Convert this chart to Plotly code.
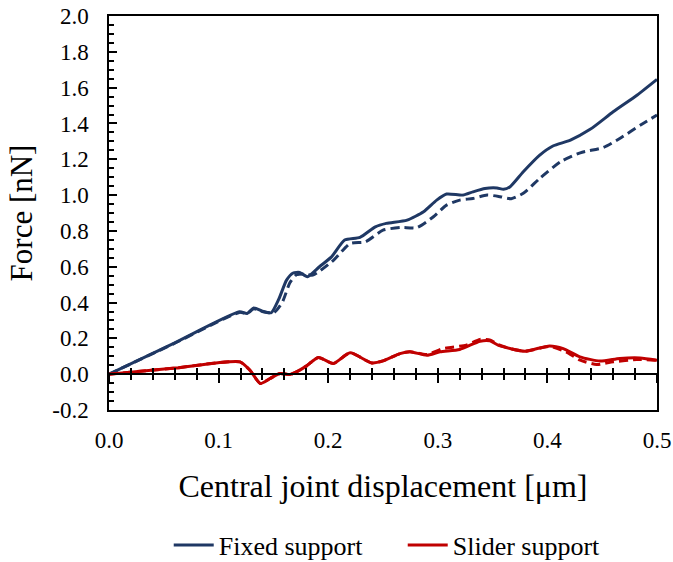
import plotly.graph_objects as go

# Fixed support: solid and dashed curves
fixed_x = [0, 0.060, 0.119, 0.126, 0.132, 0.140, 0.148, 0.155, 0.162, 0.168, 0.174,
           0.181, 0.192, 0.203, 0.215, 0.229, 0.243, 0.253, 0.272, 0.287, 0.299,
           0.308, 0.323, 0.332, 0.343, 0.354, 0.360, 0.366, 0.378, 0.393, 0.405,
           0.421, 0.439, 0.460, 0.482, 0.500]
fixed_y = [0, 0.175, 0.348, 0.339, 0.370, 0.352, 0.343, 0.420, 0.525, 0.565, 0.568,
           0.544, 0.600, 0.655, 0.749, 0.764, 0.823, 0.842, 0.860, 0.907, 0.972,
           1.006, 1.000, 1.018, 1.037, 1.040, 1.032, 1.047, 1.130, 1.223, 1.274,
           1.307, 1.367, 1.465, 1.559, 1.646]

fixed_dash_x = [0, 0.060, 0.119, 0.126, 0.132, 0.140, 0.150, 0.158, 0.165, 0.171,
                0.177, 0.186, 0.205, 0.220, 0.234, 0.250, 0.266, 0.281, 0.296, 0.308,
                0.320, 0.332, 0.345, 0.357, 0.367, 0.378, 0.393, 0.412, 0.430, 0.451,
                0.466, 0.485, 0.500]
fixed_dash_y = [0, 0.173, 0.345, 0.338, 0.365, 0.350, 0.342, 0.400, 0.510, 0.555,
                0.560, 0.553, 0.637, 0.730, 0.739, 0.804, 0.819, 0.819, 0.879, 0.944,
                0.972, 0.981, 1.000, 0.991, 0.980, 1.010, 1.093, 1.186, 1.236, 1.266,
                1.316, 1.391, 1.447]

# Slider support: solid and dashed curves
slider_x = [0, 0.060, 0.1195, 0.1286, 0.138, 0.147, 0.156, 0.165, 0.171, 0.180,
            0.191, 0.2047, 0.220, 0.2397, 0.250, 0.2655, 0.2746, 0.290, 0.302, 0.320,
            0.3385, 0.3476, 0.355, 0.366, 0.3796, 0.402, 0.4145, 0.4297, 0.448, 0.466,
            0.4845, 0.500]
slider_y = [0, 0.034, 0.069, 0.022, -0.052, -0.024, 0.004, -0.002, 0.013, 0.045,
            0.093, 0.060, 0.119, 0.063, 0.074, 0.115, 0.125, 0.106, 0.125, 0.138,
            0.184, 0.186, 0.162, 0.143, 0.128, 0.158, 0.143, 0.097, 0.073, 0.088,
            0.091, 0.078]

slider_dash_x = [0, 0.060, 0.1195, 0.1286, 0.138, 0.147, 0.156, 0.165, 0.171, 0.180,
                 0.191, 0.2047, 0.220, 0.2397, 0.250, 0.2655, 0.2746, 0.290, 0.305,
                 0.326, 0.3385, 0.348, 0.355, 0.366, 0.380, 0.402, 0.417, 0.430, 0.445,
                 0.460, 0.4815, 0.500]
slider_dash_y = [0, 0.034, 0.069, 0.022, -0.052, -0.024, 0.004, -0.002, 0.013, 0.045,
                 0.093, 0.060, 0.119, 0.063, 0.074, 0.115, 0.125, 0.110, 0.143,
                 0.162, 0.194, 0.190, 0.165, 0.143, 0.128, 0.155, 0.125, 0.078, 0.054,
                 0.069, 0.082, 0.078]

y_ticks = [-0.2, 0.0, 0.2, 0.4, 0.6, 0.8, 1.0, 1.2, 1.4, 1.6, 1.8, 2.0]
y_tick_text = ["-0.2", "0.0", "0.2", "0.4", "0.6", "0.8", "1.0", "1.2", "1.4", "1.6",
               "1.8", "2.0"]
x_ticks = [0.0, 0.1, 0.2, 0.3, 0.4, 0.5]
x_tick_text = ["0.0", "0.1", "0.2", "0.3", "0.4", "0.5"]

BLUE = "#1F3864"
RED = "#C00000"
FONT = "Liberation Serif"
LINE = dict(shape="spline", smoothing=0.6, width=3)
DASH = "9px,5px"

fig = go.Figure()
fig.add_trace(go.Scatter(x=fixed_dash_x, y=fixed_dash_y, mode="lines", showlegend=False,
                         line=dict(color=BLUE, dash=DASH, **LINE)))
fig.add_trace(go.Scatter(x=fixed_x, y=fixed_y, mode="lines", name="Fixed support",
                         line=dict(color=BLUE, **LINE)))
fig.add_trace(go.Scatter(x=slider_dash_x, y=slider_dash_y, mode="lines", showlegend=False,
                         line=dict(color=RED, dash=DASH, **LINE)))
fig.add_trace(go.Scatter(x=slider_x, y=slider_y, mode="lines", name="Slider support",
                         line=dict(color=RED, **LINE)))

# zero-line axes carrying the x tick marks (upper and lower halves)
zero_pos = 0.2 / 2.2
fig.add_trace(go.Scatter(x=[None], y=[None], xaxis="x2", showlegend=False, hoverinfo="skip"))
fig.add_trace(go.Scatter(x=[None], y=[None], xaxis="x3", showlegend=False, hoverinfo="skip"))

fig.update_layout(
    width=673, height=562,
    margin=dict(l=109, r=16, t=16, b=152),
    paper_bgcolor="white", plot_bgcolor="white",
    font=dict(family=FONT, color="black", size=23),
    showlegend=True,
    legend=dict(orientation="h", x=0.536, xanchor="center", xref="paper",
                y=(562 - 545) / 562, yanchor="middle", yref="container",
                font=dict(family=FONT, size=26, color="black"), itemwidth=40,
                entrywidth=179, bgcolor="rgba(0,0,0,0)"),
    xaxis=dict(range=[0, 0.5], tickvals=x_ticks, ticktext=x_tick_text, ticks="",
               showgrid=False, zeroline=False, showline=True, linecolor="black",
               linewidth=1.5, mirror=True, ticklabelstandoff=9, automargin=False,
               tickfont=dict(size=23),
               title=dict(text="Central joint displacement [μm]", font=dict(size=32), standoff=22)),
    xaxis2=dict(range=[0, 0.5], overlaying="x", anchor="free", position=zero_pos,
                showline=True, linecolor="black", linewidth=1.5, showticklabels=False,
                showgrid=False, zeroline=False, ticks="inside", tickvals=x_ticks,
                ticklen=5, tickwidth=1.5, tickcolor="black", automargin=False,
                minor=dict(dtick=0.02, tick0=0, ticks="inside", ticklen=5, tickwidth=1.5, tickcolor="black")),
    xaxis3=dict(range=[0, 0.5], overlaying="x", anchor="free", position=zero_pos,
                showline=False, showticklabels=False, showgrid=False, zeroline=False,
                ticks="outside", tickvals=x_ticks, automargin=False,
                ticklen=8, tickwidth=2, tickcolor="black",
                minor=dict(dtick=0.02, tick0=0, ticks="outside", ticklen=5, tickwidth=1.5, tickcolor="black")),
    yaxis=dict(range=[-0.2, 2.0], tickvals=y_ticks, ticktext=y_tick_text, ticks="inside",
               ticklen=8, tickwidth=1.5, tickcolor="black", automargin=False,
               minor=dict(dtick=0.05, tick0=0, ticks="inside", ticklen=5, tickwidth=1.5, tickcolor="black"),
               showgrid=False, zeroline=False, showline=True, linecolor="black",
               linewidth=1.5, mirror=True, ticklabelstandoff=14,
               tickfont=dict(size=23),
               title=dict(text="Force [nN]", font=dict(size=31), standoff=10)),
)

fig.write_html("out.html")
